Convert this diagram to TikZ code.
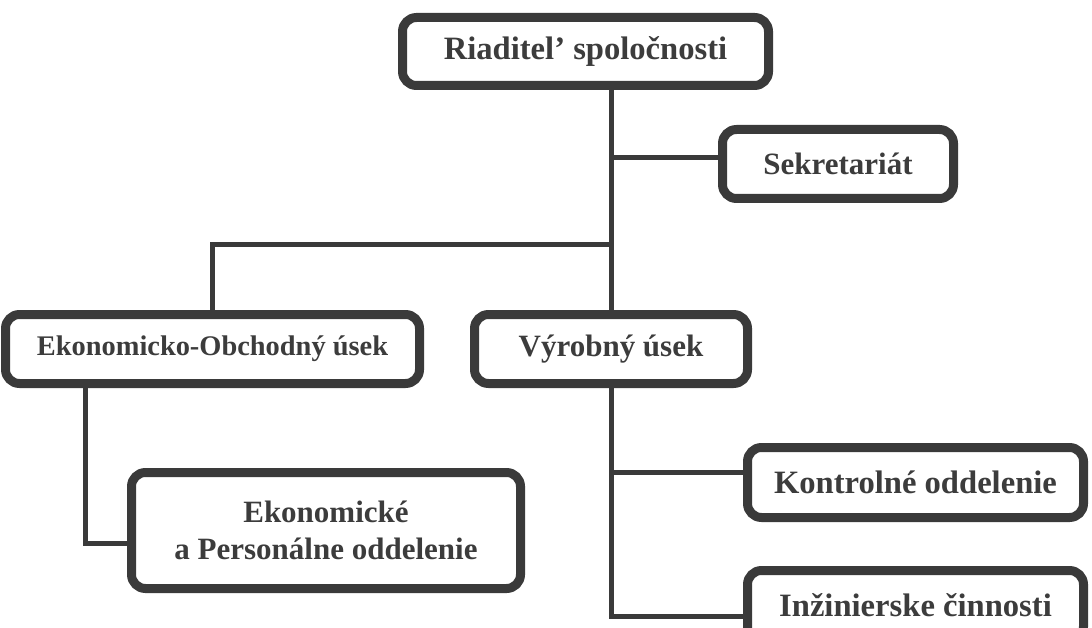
\documentclass[tikz,border=0pt]{standalone}
\usepackage{fontspec}
\setmainfont{Liberation Serif}
\usetikzlibrary{positioning}
\definecolor{inkgray}{HTML}{3A3A3A}
\definecolor{textgray}{HTML}{3C3C3C}
\tikzset{unit/.style={draw=inkgray,line width=9pt,rounded corners=14pt,fill=white,
        text=textgray,font=\fontsize{31}{37}\selectfont\bfseries,inner sep=0pt,align=center},
    bigunit/.style={unit,font=\fontsize{32.6}{37}\selectfont\bfseries},
    link/.style={draw=inkgray,line width=5pt}}

\begin{document}
\begin{tikzpicture}[x=1pt,y=-1pt]
    \useasboundingbox (0,0) rectangle (1092,628);
    \clip (0,0) rectangle (1092,628);
    % boxes
    \node[bigunit,minimum width=366pt,minimum height=68pt] (riad) at (585.5,51.5) {Riaditel’ spoločnosti};
    \node[unit,minimum width=231pt,minimum height=69pt] (sekr) at (838,164) {Sekretariát};
    \node[unit,minimum width=273pt,minimum height=69pt] (vyr) at (611,349) {Výrobný úsek};
    \node[unit,minimum width=414pt,minimum height=69pt,font=\fontsize{28.4}{37}\selectfont\bfseries] (ekob) [left=46pt of vyr] {Ekonomicko-Obchodný úsek};
    \node[unit,minimum width=389pt,minimum height=116pt] (ekper) at (326,530.5) {Ekonomické\\a Personálne oddelenie};
    \node[bigunit,minimum width=336pt,minimum height=70pt] (kontr) at (915.5,482.5) {Kontrolné oddelenie};
    \node[bigunit,minimum width=336pt,minimum height=70pt] (inz) [below=44pt of kontr] {Inžinierske činnosti};
    % connectors
    \coordinate (fork) at (611,245);
    \coordinate (ekfoot) at (85,543);
    \draw[link] (riad.south -| vyr.north) -- (vyr.north);
    \draw[link] (sekr.west -| vyr) ++(0,-6) -- ([yshift=6pt]sekr.west);
    \draw[link] (fork) -| (ekob.north);
    \draw[link] (ekob.south -| ekfoot) -- (ekfoot) -- (ekfoot -| ekper.west);
    \draw[link] (vyr.south) |- ([yshift=-11pt]inz.west);
    \draw[link] ([yshift=10pt]kontr.west -| vyr.south) -- ([yshift=10pt]kontr.west);
\end{tikzpicture}
\end{document}
